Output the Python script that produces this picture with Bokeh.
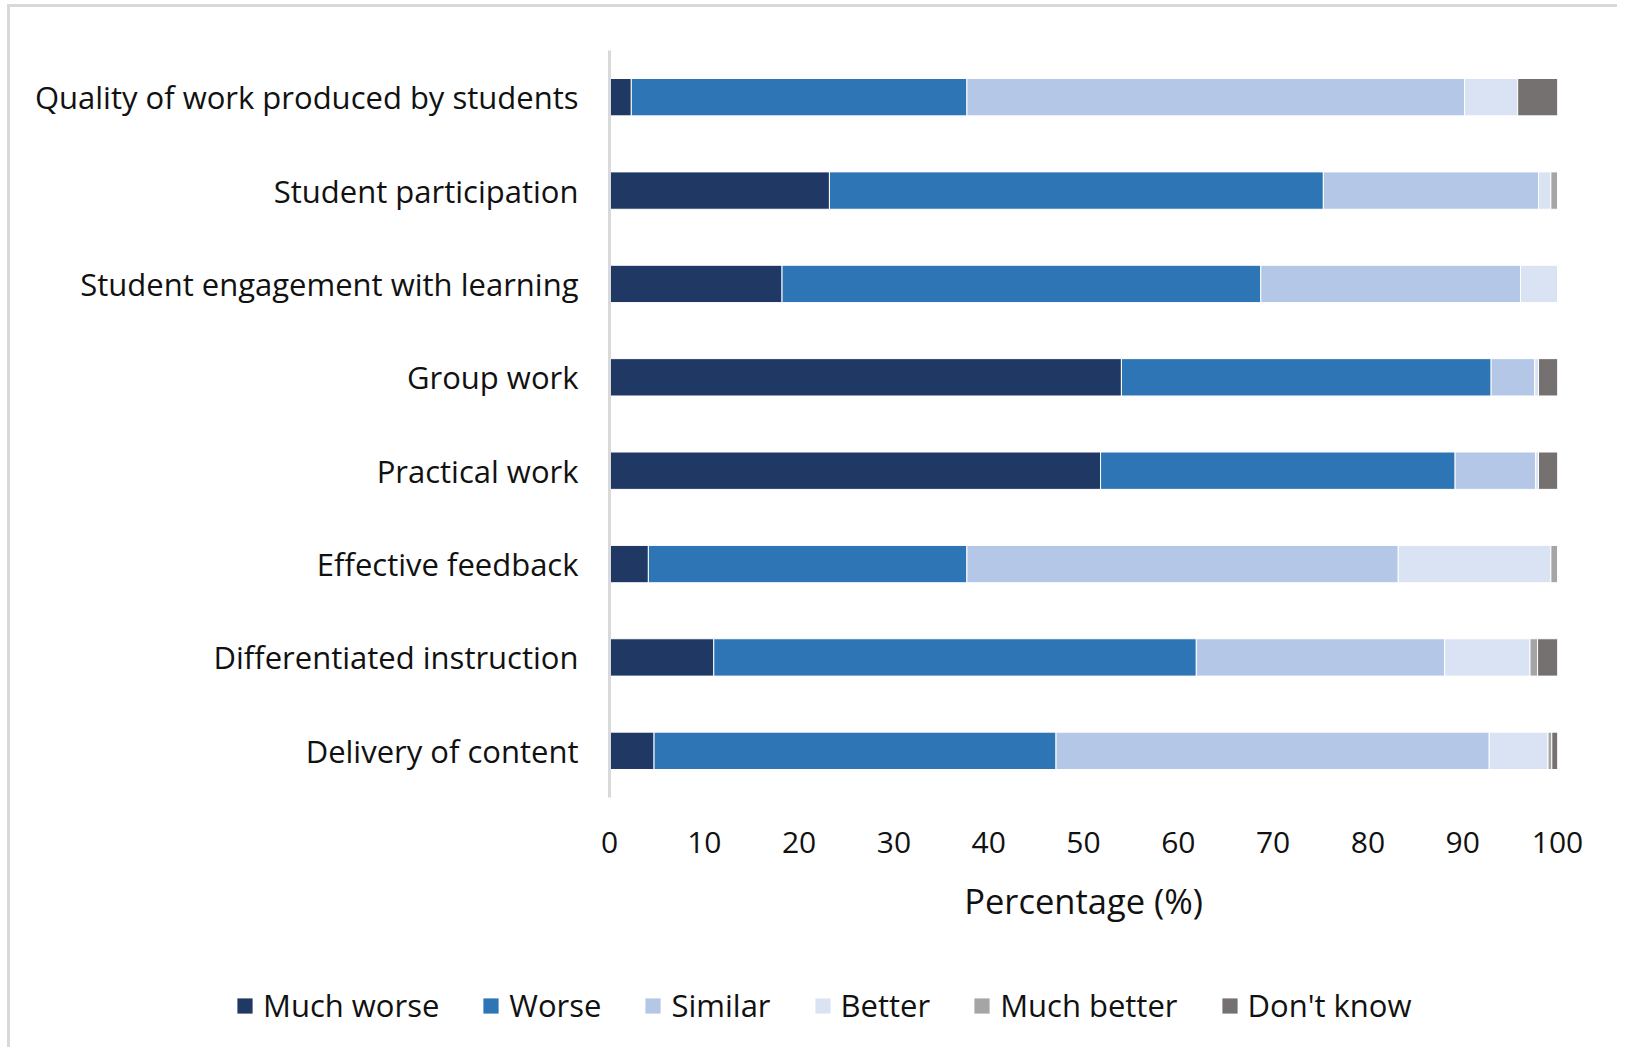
from bokeh.plotting import figure
from bokeh.layouts import column
from bokeh.models import ColumnDataSource, FactorRange, Range1d, FixedTicker, Legend, LegendItem
from bokeh.embed import file_html
from bokeh.resources import INLINE

categories = ["Quality of work produced by students", "Student participation",
              "Student engagement with learning", "Group work", "Practical work",
              "Effective feedback", "Differentiated instruction", "Delivery of content"]
much_worse = [2.3, 23.2, 18.2, 54.0, 51.8, 4.1, 11.0, 4.7]
worse = [35.4, 52.1, 50.5, 39.0, 37.4, 33.6, 50.9, 42.4]
similar = [52.5, 22.7, 27.4, 4.6, 8.5, 45.5, 26.2, 45.7]
better = [5.6, 1.3, 3.9, 0.4, 0.3, 16.1, 9.0, 6.2]
much_better = [0.0, 0.7, 0.0, 0.0, 0.0, 0.7, 0.8, 0.4]
dont_know = [4.2, 0.0, 0.0, 2.0, 2.0, 0.0, 2.1, 0.6]
series_names = ["Much worse", "Worse", "Similar", "Better", "Much better", "Don't know"]
x_ticks = [0, 10, 20, 30, 40, 50, 60, 70, 80, 90, 100]

colors = ["#203864", "#2E75B6", "#B4C7E7", "#DAE3F3", "#A5A5A5", "#767171"]
keys = ["mw", "w", "s", "b", "mb", "dk"]

source = ColumnDataSource(dict(cat=categories, mw=much_worse, w=worse, s=similar,
                               b=better, mb=much_better, dk=dont_know))

FONT = "Open Sans"
TXT = "#111111"

p = figure(y_range=FactorRange(*reversed(categories)), x_range=Range1d(0, 100),
           frame_width=948, frame_height=747,
           min_border_left=599, min_border_right=60, min_border_top=43, min_border_bottom=140,
           output_backend="svg", toolbar_location=None)
p.outline_line_color = None
p.grid.visible = False

renderers = p.hbar_stack(keys, y="cat", height=0.4, color=colors, source=source,
                         line_color="white", line_width=1)

xa = p.xaxis[0]
xa.ticker = FixedTicker(ticks=x_ticks)
xa.axis_line_color = None
xa.major_tick_line_color = None
xa.minor_tick_line_color = None
xa.major_label_standoff = 28
xa.major_label_text_font = FONT
xa.major_label_text_font_size = "30px"
xa.major_label_text_color = TXT
xa.axis_label = "Percentage (%)"
xa.axis_label_text_font = FONT
xa.axis_label_text_font_size = "34.5px"
xa.axis_label_text_font_style = "normal"
xa.axis_label_text_color = TXT
xa.axis_label_standoff = 21

ya = p.yaxis[0]
ya.axis_line_color = "#d9d9d9"
ya.axis_line_width = 3
ya.major_tick_line_color = None
ya.minor_tick_line_color = None
ya.major_label_standoff = 25
ya.major_label_text_font = FONT
ya.major_label_text_font_size = "31px"
ya.major_label_text_color = TXT

# legend strip below the chart (zero-size proxy bars carry the series colours)
pl = figure(x_range=Range1d(0, 1), y_range=Range1d(0, 1), frame_width=1607, frame_height=110,
            min_border_left=0, min_border_right=0, min_border_top=0, min_border_bottom=0,
            x_axis_type=None, y_axis_type=None, output_backend="svg", toolbar_location=None)
pl.outline_line_color = None
pl.grid.visible = False
proxies = [pl.hbar(y=k, left=0, right=0, height=0, fill_color=c, line_color=None, source=source)
           for k, c in zip(keys, colors)]
items = [LegendItem(label=n, renderers=[r]) for n, r in zip(series_names, proxies)]
legend = Legend(items=items, orientation="horizontal", location=(225, 21),
                label_text_font=FONT, label_text_font_size="31px", label_text_color=TXT,
                glyph_width=19, glyph_height=19, label_standoff=9, spacing=42,
                padding=0, margin=0, border_line_color=None, background_fill_alpha=0)
pl.add_layout(legend)

layout = column(p, pl, spacing=0)
layout.styles = {"margin-left": "7px", "margin-top": "4px",
                 "border-left": "3px solid #d9d9d9", "border-top": "3px solid #d9d9d9"}

open("out.html", "w").write(file_html(layout, INLINE))
